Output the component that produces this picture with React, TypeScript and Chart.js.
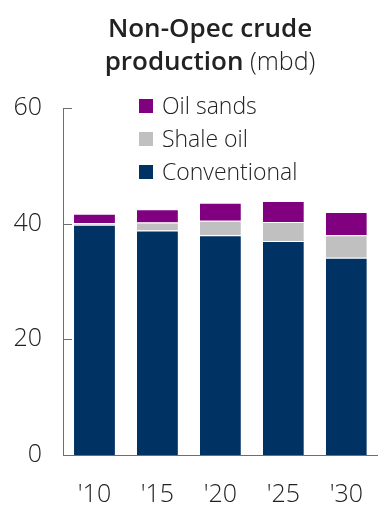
import { useEffect, useRef } from "react";
import { Chart, registerables } from "chart.js";

Chart.register(...registerables);

const categories = ["'10", "'15", "'20", "'25", "'30"];
const conventional = [39.8, 38.8, 38.0, 37.0, 34.1];
const shaleOil = [0.3, 1.4, 2.5, 3.3, 3.9];
const oilSands = [1.6, 2.3, 3.1, 3.6, 4.0];
const seriesNames = ["Conventional", "Shale oil", "Oil sands"];
const seriesColors = ["#003263", "#c0c0c0", "#800080"];
const yTicks = [0, 20, 40, 60];
const titleLine1 = "Non-Opec crude";
const titleLine2Bold = "production";
const titleLine2Unit = " (mbd)";

const TFONT = "'Open Sans', Lato, sans-serif";
const TEXT = "#222222";
const AXIS = "#6e6e6e";

const decorPlugin = {
  id: "decor",
  afterDraw(chart: any) {
    const ctx = chart.ctx;
    const { chartArea, scales } = chart;
    ctx.save();
    // Title
    const cx = 210;
    ctx.fillStyle = TEXT;
    ctx.textBaseline = "alphabetic";
    ctx.textAlign = "left";
    ctx.font = `600 26px ${TFONT}`;
    const w1 = ctx.measureText(titleLine1).width;
    ctx.fillText(titleLine1, cx - w1 / 2, 37);
    const wb = ctx.measureText(titleLine2Bold).width;
    ctx.font = `350 25px ${TFONT}`;
    const wu = ctx.measureText(titleLine2Unit).width;
    const start = cx - (wb + wu) / 2;
    ctx.font = `600 26px ${TFONT}`;
    ctx.fillText(titleLine2Bold, start, 70);
    ctx.font = `350 25px ${TFONT}`;
    ctx.fillText(titleLine2Unit, start + wb, 70);

    // Legend (reverse order)
    const ds = chart.data.datasets;
    ctx.font = `350 23px ${TFONT}`;
    ctx.textBaseline = "middle";
    for (let i = 0; i < ds.length; i++) {
      const d = ds[ds.length - 1 - i];
      const cy = 106 + i * 33;
      ctx.fillStyle = d.backgroundColor;
      ctx.fillRect(139, cy - 7, 14, 14);
      ctx.fillStyle = TEXT;
      ctx.fillText(d.label, 162, cy + 1);
    }

    // Inward ticks on y axis
    const y = scales.y;
    ctx.strokeStyle = AXIS;
    ctx.lineWidth = 1;
    ctx.beginPath();
    for (const t of yTicks) {
      const py = Math.round(y.getPixelForValue(t)) + 0.5;
      ctx.moveTo(chartArea.left, py);
      ctx.lineTo(chartArea.left + 9, py);
    }
    ctx.stroke();
    ctx.restore();
  },
};

export default function App() {
  const ref = useRef<HTMLCanvasElement | null>(null);
  useEffect(() => {
    if (!ref.current) return;
    const data = [conventional, shaleOil, oilSands];
    const chart = new Chart(ref.current, {
      type: "bar",
      data: {
        labels: categories,
        datasets: data.map((vals, i) => ({
          label: seriesNames[i],
          data: vals,
          backgroundColor: seriesColors[i],
          borderColor: "#ffffff",
          borderWidth: { top: 1, left: 0, right: 0, bottom: 0 },
          borderSkipped: false,
          barPercentage: 0.65,
          categoryPercentage: 1,
        })),
      },
      options: {
        responsive: false,
        animation: false,
        layout: { padding: { top: 108, left: 0, right: 0, bottom: 0 } },
        plugins: { legend: { display: false }, title: { display: false }, tooltip: { enabled: false } },
        scales: {
          x: {
            stacked: true,
            grid: { display: false, drawTicks: false },
            border: { display: true, color: AXIS, width: 1 },
            ticks: { color: TEXT, font: { family: TFONT, size: 25, weight: "350" }, padding: 25, maxRotation: 0 },
            afterFit(scale: any) {
              scale.height = 51;
            },
          },
          y: {
            stacked: true,
            min: 0,
            max: 60,
            afterBuildTicks(scale: any) {
              scale.ticks = yTicks.map((v) => ({ value: v }));
            },
            grid: { display: false, drawTicks: false },
            border: { display: true, color: AXIS, width: 1 },
            ticks: { color: TEXT, font: { family: TFONT, size: 25, weight: "350" }, padding: 21 },
            afterFit(scale: any) {
              scale.width = 63;
            },
          },
        },
      },
      plugins: [decorPlugin],
    });
    return () => chart.destroy();
  }, []);
  return (
    <div style={{ position: "fixed", left: 0, top: 0, width: 384, height: 506, overflow: "hidden", background: "#fff" }}>
      <canvas ref={ref} width={388} height={506} style={{ width: 388, height: 506, display: "block" }} />
    </div>
  );
}
